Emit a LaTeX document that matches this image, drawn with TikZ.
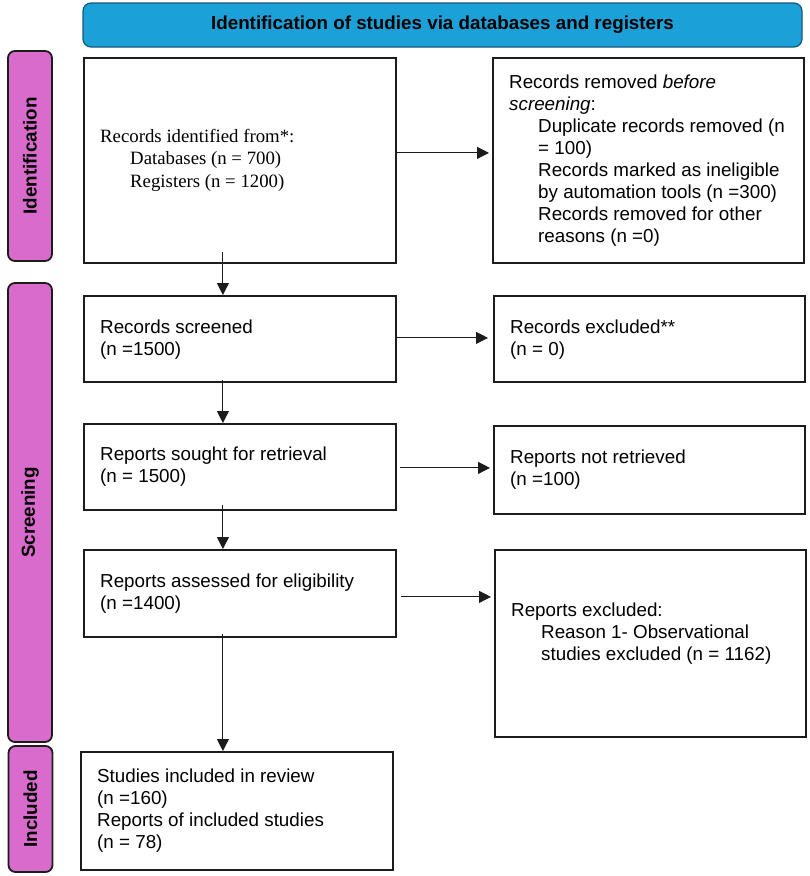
\documentclass[tikz,border=0pt]{standalone}
\usepackage{fontspec}
\setmainfont{Liberation Sans}
\newfontfamily\timesf{Liberation Serif}
\usetikzlibrary{arrows.meta,calc}
\definecolor{hdrblue}{RGB}{27,161,216}
\definecolor{hdredge}{RGB}{22,88,122}
\definecolor{barmag}{RGB}{216,107,203}
\definecolor{edgec}{RGB}{28,28,28}
\tikzset{
  box/.style={draw=edgec, line width=1.8pt, anchor=north west, inner sep=0pt},
  txt/.style={anchor=west, inner sep=0pt, align=left, font=\fontsize{18.8pt}{22pt}\selectfont},
  sidebar/.style={draw=edgec, line width=1.8pt, fill=barmag, rounded corners=7pt, rotate=90,
    minimum height=44pt, inner sep=0pt, font=\fontsize{18.8pt}{22pt}\selectfont\bfseries},
  arr/.style={draw=edgec, line width=1pt, -{Triangle[length=12pt,width=12pt]}},
}
\begin{document}
\begin{tikzpicture}[x=1pt,y=-1pt]
\useasboundingbox (0,0) rectangle (810,876);
% header
\node[draw=hdredge, line width=1.2pt, fill=hdrblue, rounded corners=8pt, minimum width=719pt,
  minimum height=44pt, inner sep=0pt, font=\fontsize{18.8pt}{22pt}\selectfont\bfseries] (hdr) at (442.5,25)
  {Identification of studies via databases and registers};
% side bars
\node[sidebar, minimum width=210pt] (sid) at (30,156) {Identification};
\node[sidebar, minimum width=459pt] (ssc) at (30,512.5) {Screening};
\node[sidebar, minimum width=126pt] (sin) at (30.5,809) {Included};
% boxes
\node[box, minimum width=312pt, minimum height=205pt] (b1) at (83,57) {};
\node[box, minimum width=311pt, minimum height=205pt] (b2) at (492,57) {};
\node[box, minimum width=312pt, minimum height=86pt] (scr) at (83,295) {};
\node[box, minimum width=311pt, minimum height=86pt] (exc) at (493,295) {};
\node[box, minimum width=312pt, minimum height=86pt] (sgt) at (83,423) {};
\node[box, minimum width=311pt, minimum height=88pt] (nrt) at (493,425) {};
\node[box, minimum width=312pt, minimum height=87pt] (ass) at (83,549) {};
\node[box, minimum width=311pt, minimum height=187pt] (rex) at (494,549) {};
\node[box, minimum width=312pt, minimum height=118pt] (inc) at (80,751) {};
% texts
\node[txt, font={\timesf\fontsize{18.8pt}{22.5pt}\selectfont}] (t1) at ([xshift=17pt]b1.west)
  {Records identified from*:\\\hspace*{30pt}Databases (n = 700)\\\hspace*{30pt}Registers (n = 1200)};
\node[txt] (t2) at ([xshift=17pt]b2.west)
  {Records removed \textit{before}\\\textit{screening}:\\\hspace*{29pt}Duplicate records removed (n\\\hspace*{29pt}= 100)\\\hspace*{29pt}Records marked as ineligible\\\hspace*{29pt}by automation tools (n =300)\\\hspace*{29pt}Records removed for other\\\hspace*{29pt}reasons (n =0)};
\node[txt] (t3) at ([xshift=17pt,yshift=-1pt]scr.west) {Records screened\\(n =1500)};
\node[txt] (t4) at ([xshift=17pt,yshift=-1pt]exc.west) {Records excluded**\\(n = 0)};
\node[txt] (t5) at ([xshift=17pt]sgt.west) {Reports sought for retrieval\\(n = 1500)};
\node[txt] (t6) at ([xshift=17pt]nrt.west) {Reports not retrieved\\(n =100)};
\node[txt] (t7) at ([xshift=17pt]ass.west) {Reports assessed for eligibility\\(n =1400)};
\node[txt] (t8) at ([xshift=17pt,yshift=10pt]rex.west)
  {Reports excluded:\\\hspace*{30pt}Reason 1- Observational\\\hspace*{30pt}studies excluded (n = 1162)};
\node[txt] (t9) at ([xshift=17pt]inc.west)
  {Studies included in review\\(n =160)\\Reports of included studies\\(n = 78)};
% horizontal arrows
\draw[arr, shorten >=3pt] ([yshift=7.5pt]b1.east) -- ([yshift=7.5pt]b1.east -| b2.west);
\draw[arr, shorten >=5pt] ([yshift=1pt]scr.east) -- ([yshift=1pt]scr.east -| exc.west);
\draw[arr, shorten <=3pt, shorten >=3pt] ([yshift=-1pt]sgt.east) -- ([yshift=-1pt]sgt.east -| nrt.west);
\draw[arr, shorten <=4pt, shorten >=3pt] ([yshift=-3.5pt]ass.east) -- ([yshift=-3.5pt]ass.east -| rex.west);
% vertical arrows
\draw[arr] ([xshift=-17pt,yshift=12pt]b1.south) -- ([xshift=-17pt]b1.south |- scr.north);
\draw[arr] ([xshift=-17pt,yshift=3pt]scr.south) -- ([xshift=-17pt]scr.south |- sgt.north);
\draw[arr] ([xshift=-17pt,yshift=6pt]sgt.south) -- ([xshift=-17pt]sgt.south |- ass.north);
\draw[arr] ([xshift=-17pt,yshift=4pt]ass.south) -- ([xshift=-17pt]ass.south |- inc.north);
\end{tikzpicture}
\end{document}
